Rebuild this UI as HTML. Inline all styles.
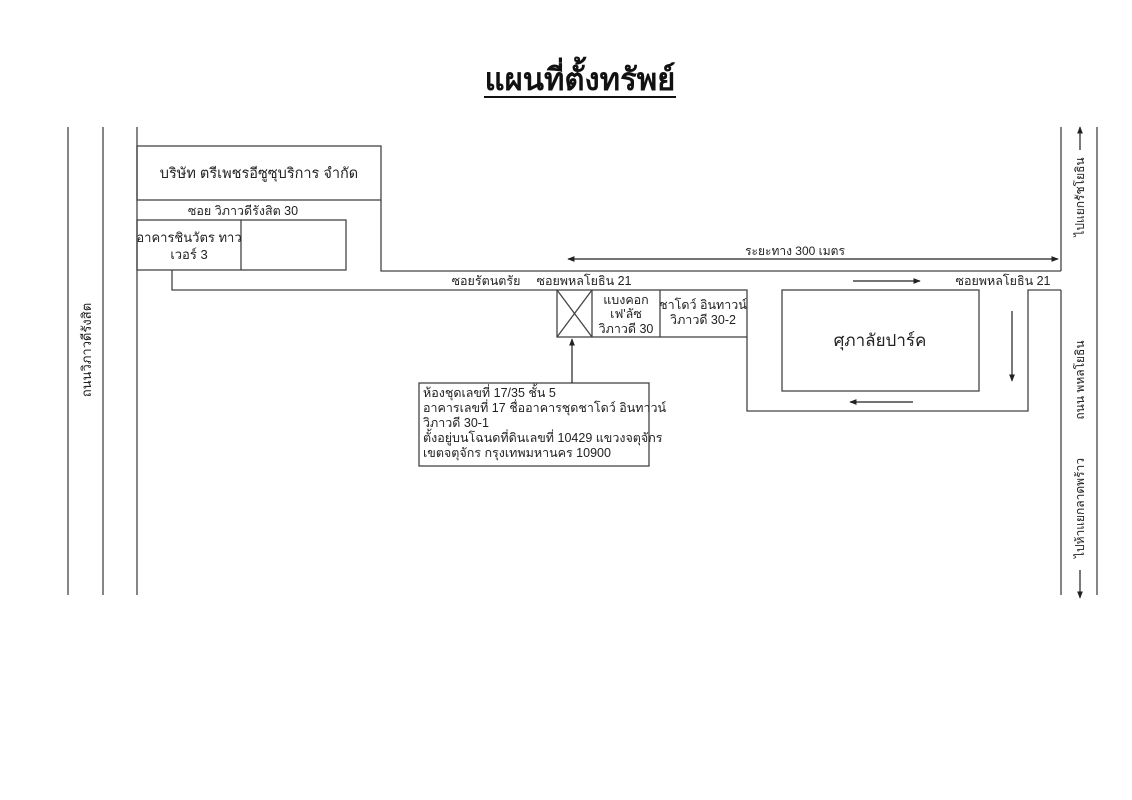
<!DOCTYPE html>
<html><head><meta charset="utf-8"><style>
html,body{margin:0;padding:0;background:#fff;}
svg{display:block;}
text{font-family:"Liberation Sans","DejaVu Sans",sans-serif;fill:#222;font-size:12.5px;}
</style></head><body>
<svg width="1132" height="800" viewBox="0 0 1132 800" xmlns="http://www.w3.org/2000/svg">
<defs>
<marker id="ah" viewBox="0 0 10 10" refX="9" refY="5" markerWidth="6" markerHeight="6" orient="auto-start-reverse"><path d="M0,1 L10,5 L0,9 z" fill="#222"/></marker>
</defs>
<text x="580" y="90" text-anchor="middle" style="font-size:31px;font-weight:bold;fill:#111">แผนที่ตั้งทรัพย์</text>
<line x1="484" y1="97" x2="676" y2="97" stroke="#111" stroke-width="2"/>
<g stroke="#444" stroke-width="1.3" fill="none">
<line x1="68" y1="127" x2="68" y2="595"/>
<line x1="103" y1="127" x2="103" y2="595"/>
<line x1="137" y1="127" x2="137" y2="595"/>
<line x1="1061" y1="127" x2="1061" y2="271"/>
<line x1="1097" y1="127" x2="1097" y2="595"/>
<line x1="1061" y1="290" x2="1061" y2="595"/>
<rect x="137" y="146" width="244" height="54"/>
<polyline points="381,200 381,271 1061,271"/>
<rect x="137" y="220" width="209" height="50"/>
<line x1="241" y1="220" x2="241" y2="270"/>
<polyline points="172,270 172,290 557,290"/>
<rect x="557" y="290" width="190" height="47"/>
<line x1="592" y1="290" x2="592" y2="337"/>
<line x1="660" y1="290" x2="660" y2="337"/>
<line x1="557" y1="290" x2="592" y2="337"/>
<line x1="592" y1="290" x2="557" y2="337"/>
<polyline points="747,337 747,411 1028,411 1028,290 1061,290"/>
<rect x="782" y="290" width="197" height="101"/>
<rect x="419" y="383" width="230" height="83"/>
</g>
<g stroke="#222" stroke-width="1.2" fill="none">
<line x1="568" y1="259" x2="1058" y2="259" marker-start="url(#ah)" marker-end="url(#ah)"/>
<line x1="853" y1="281" x2="920" y2="281" marker-end="url(#ah)"/>
<line x1="1012" y1="311" x2="1012" y2="381" marker-end="url(#ah)"/>
<line x1="913" y1="402" x2="850" y2="402" marker-end="url(#ah)"/>
<line x1="572" y1="383" x2="572" y2="339" marker-end="url(#ah)"/>
<line x1="1080" y1="150" x2="1080" y2="127" marker-end="url(#ah)"/>
<line x1="1080" y1="570" x2="1080" y2="598" marker-end="url(#ah)"/>
</g>
<text x="259" y="178" text-anchor="middle" style="font-size:14.5px">บริษัท ตรีเพชรอีซูซุบริการ จำกัด</text>
<text x="243" y="215" text-anchor="middle">ซอย วิภาวดีรังสิต 30</text>
<text x="189" y="242" text-anchor="middle" style="font-size:13px">อาคารชินวัตร ทาว</text>
<text x="189" y="259" text-anchor="middle" style="font-size:13px">เวอร์ 3</text>
<text x="486" y="285" text-anchor="middle">ซอยรัตนตรัย</text>
<text x="584" y="285" text-anchor="middle">ซอยพหลโยธิน 21</text>
<text x="1003" y="285" text-anchor="middle">ซอยพหลโยธิน 21</text>
<text x="795" y="255" text-anchor="middle" style="font-size:12px">ระยะทาง 300 เมตร</text>
<text x="626" y="304" text-anchor="middle">แบงคอก</text>
<text x="626" y="318" text-anchor="middle">เฟ'ลัซ</text>
<text x="626" y="333" text-anchor="middle">วิภาวดี 30</text>
<text x="703" y="309" text-anchor="middle">ชาโดว์ อินทาวน์</text>
<text x="703" y="324" text-anchor="middle">วิภาวดี 30-2</text>
<text x="880" y="346" text-anchor="middle" style="font-size:17px">ศุภาลัยปาร์ค</text>
<text x="423" y="397">ห้องชุดเลขที่ 17/35 ชั้น 5</text>
<text x="423" y="412">อาคารเลขที่ 17 ชื่ออาคารชุดชาโดว์ อินทาวน์</text>
<text x="423" y="427">วิภาวดี 30-1</text>
<text x="423" y="442">ตั้งอยู่บนโฉนดที่ดินเลขที่ 10429 แขวงจตุจักร</text>
<text x="423" y="457">เขตจตุจักร กรุงเทพมหานคร 10900</text>
<text transform="translate(91,350) rotate(-90)" text-anchor="middle" style="font-size:13px">ถนนวิภาวดีรังสิต</text>
<text transform="translate(1084,197) rotate(-90)" text-anchor="middle" style="font-size:12px">ไปแยกรัชโยธิน</text>
<text transform="translate(1084,380) rotate(-90)" text-anchor="middle" style="font-size:12px">ถนน พหลโยธิน</text>
<text transform="translate(1084,508) rotate(-90)" text-anchor="middle" style="font-size:12px">ไปห้าแยกลาดพร้าว</text>
</svg>
</body></html>
